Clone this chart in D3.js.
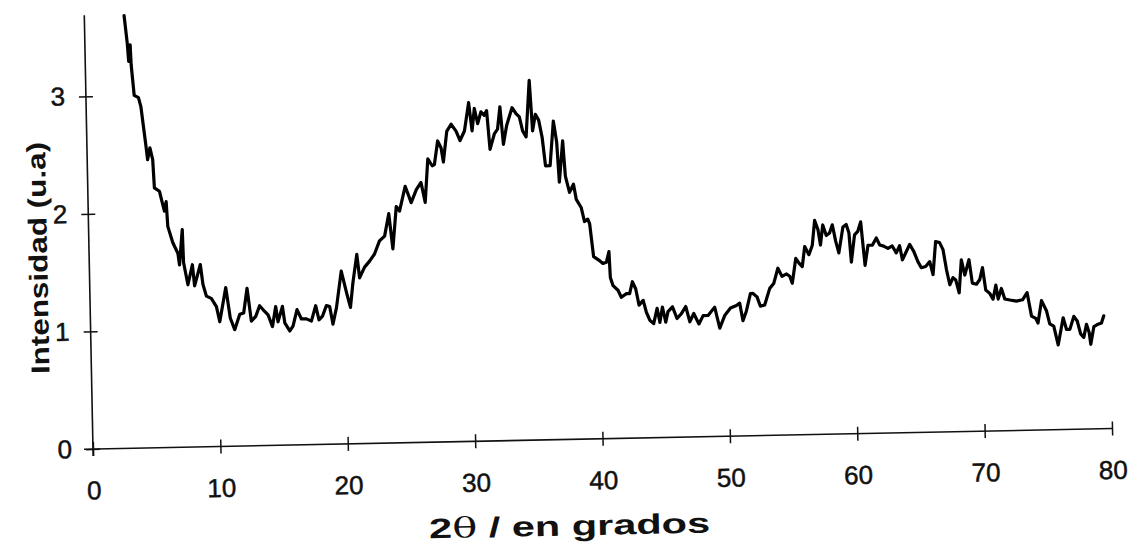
<!DOCTYPE html>
<html><head><meta charset="utf-8">
<script src="https://cdn.jsdelivr.net/npm/d3@7"></script>
<style>body{margin:0;background:#fff}svg{display:block}</style>
</head><body>
<svg id="c" width="1132" height="545"></svg>
<script>
const twoTheta = [3.12,3.33,3.41,3.55,3.60,3.79,4.12,4.30,4.64,4.74,4.94,5.14,5.23,5.62,5.81,5.98,6.13,6.22,6.59,6.97,7.08,7.35,7.40,7.71,8.09,8.23,8.71,8.89,9.14,9.52,9.91,10.15,10.67,10.98,11.31,11.73,12.04,12.34,12.63,12.98,13.30,13.69,13.95,14.28,14.56,14.72,15.09,15.25,15.63,15.89,16.23,16.56,16.96,17.34,17.70,17.94,18.22,18.54,18.80,19.03,19.33,19.76,20.18,20.43,20.66,21.01,21.19,21.60,22.00,22.40,22.81,23.22,23.58,23.85,24.18,24.43,24.91,25.36,25.78,26.16,26.46,26.73,27.06,27.24,27.53,27.79,27.95,28.26,28.61,28.99,29.29,29.65,30.02,30.25,30.46,30.70,30.97,31.23,31.42,31.63,31.99,32.25,32.47,32.69,32.97,33.42,33.72,33.98,34.22,34.48,34.81,35.00,35.24,35.49,35.74,35.96,36.32,36.64,36.87,37.02,37.34,37.50,37.80,38.12,38.32,38.69,38.93,39.19,39.33,39.59,39.99,40.31,40.58,40.80,40.87,41.07,41.45,41.70,42.11,42.36,42.59,42.84,43.08,43.41,43.64,43.90,44.20,44.49,44.69,44.91,45.15,45.34,45.70,46.04,46.39,46.74,47.04,47.36,47.75,48.09,48.48,49.01,49.38,49.80,50.25,50.72,50.98,51.21,51.49,51.84,52.04,52.35,52.60,52.94,53.36,53.68,54.03,54.34,54.70,54.95,55.14,55.45,55.70,55.95,56.17,56.49,56.77,56.99,57.24,57.41,57.62,57.88,58.14,58.37,58.61,58.84,59.20,59.46,59.66,59.81,60.10,60.36,60.60,60.75,60.88,61.14,61.48,61.80,62.06,62.37,62.70,63.04,63.35,63.62,63.82,64.14,64.41,64.72,65.04,65.29,65.63,65.96,66.20,66.45,66.76,67.02,67.26,67.50,67.76,67.97,68.22,68.44,68.69,69.04,69.27,69.59,69.86,70.09,70.31,70.62,70.87,71.11,71.27,71.54,71.79,72.19,72.70,73.18,73.55,73.86,74.19,74.36,74.67,75.05,75.28,75.59,75.91,76.34,76.59,76.85,77.18,77.44,77.69,77.93,78.16,78.36,78.47,78.74,79.07,79.34,79.53];
const intensity = [3.68,3.44,3.29,3.43,3.26,3.00,2.98,2.90,2.56,2.45,2.55,2.45,2.21,2.18,2.09,2.01,2.09,1.88,1.74,1.65,1.55,1.85,1.57,1.38,1.55,1.37,1.55,1.38,1.28,1.26,1.19,1.06,1.35,1.09,0.99,1.12,1.13,1.34,1.06,1.10,1.19,1.14,1.11,1.01,1.18,1.05,1.18,1.04,0.97,1.01,1.15,1.07,1.07,1.05,1.18,1.06,1.09,1.18,1.17,1.02,1.16,1.47,1.27,1.16,1.37,1.61,1.41,1.50,1.55,1.61,1.72,1.76,1.95,1.65,2.01,1.97,2.18,2.04,2.15,2.21,2.04,2.41,2.35,2.36,2.56,2.50,2.38,2.64,2.70,2.64,2.56,2.64,2.88,2.64,2.83,2.70,2.80,2.77,2.81,2.48,2.61,2.65,2.84,2.52,2.68,2.83,2.78,2.75,2.63,2.58,3.06,2.63,2.77,2.72,2.57,2.33,2.33,2.71,2.53,2.19,2.54,2.24,2.10,2.17,2.04,1.97,1.85,1.87,1.83,1.55,1.52,1.49,1.50,1.59,1.37,1.30,1.26,1.20,1.23,1.23,1.33,1.27,1.13,1.17,1.07,1.00,0.97,1.10,0.98,1.11,0.98,1.07,1.11,1.01,1.05,1.11,0.98,1.05,0.96,1.03,1.03,1.10,0.92,1.03,1.09,1.11,1.13,0.98,1.06,1.21,1.21,1.18,1.10,1.11,1.25,1.29,1.42,1.35,1.37,1.35,1.29,1.50,1.46,1.43,1.60,1.53,1.61,1.82,1.74,1.61,1.78,1.69,1.71,1.78,1.64,1.54,1.76,1.78,1.71,1.46,1.69,1.72,1.80,1.60,1.43,1.60,1.60,1.66,1.60,1.59,1.57,1.59,1.53,1.59,1.47,1.54,1.60,1.54,1.45,1.40,1.41,1.45,1.34,1.62,1.61,1.55,1.38,1.25,1.31,1.29,1.18,1.46,1.33,1.46,1.26,1.25,1.29,1.39,1.20,1.17,1.12,1.24,1.12,1.21,1.12,1.11,1.10,1.11,1.17,0.97,0.95,0.91,1.10,1.01,0.90,0.88,0.72,0.95,0.85,0.85,0.96,0.92,0.81,0.78,0.89,0.82,0.72,0.87,0.89,0.90,0.96];
const xTicks = [0,10,20,30,40,50,60,70,80];
const yTicks = [0,1,2,3];
const xTitleMain = "2";
const xTitleGreek = "θ";
const xTitleRest = " / en grados";
const yTitle = "Intensidad (u.a)";

const svg = d3.select("#c");
const ox = 93, oy = 449;
const x = d3.scaleLinear().domain([0, 80]).range([ox, ox + 80 * 12.74]);
const y = d3.scaleLinear().domain([0, 3.69]).range([oy, oy - 3.69 * 117.6]);
const ink = "#111";
const font = "'Liberation Sans', Arial, sans-serif";

const g = svg.append("g").attr("transform", `rotate(-1.15 ${ox} ${oy})`);

// axis lines
g.append("line").attr("x1", x(0) - 9).attr("x2", x(80)).attr("y1", oy).attr("y2", oy)
  .attr("stroke", ink).attr("stroke-width", 1.6);
g.append("line").attr("x1", ox).attr("x2", ox).attr("y1", oy + 7).attr("y2", y(3.69))
  .attr("stroke", ink).attr("stroke-width", 1.6);

const gx = g.append("g").attr("transform", `translate(0,${oy})`)
  .call(d3.axisBottom(x).tickValues(xTicks).tickSize(7).tickPadding(25).tickFormat(d3.format("d")));
gx.select(".domain").remove();
gx.selectAll(".tick line").attr("y1", -7).attr("stroke", ink).attr("stroke-width", 1.5);
gx.selectAll(".tick text").attr("font-family", font).attr("font-size", 26).attr("fill", ink)
  .attr("stroke", ink).attr("stroke-width", 0.5);

const gy = g.append("g").attr("transform", `translate(${ox},0)`)
  .call(d3.axisLeft(y).tickValues(yTicks).tickSize(7).tickPadding(14).tickFormat(d3.format("d")));
gy.select(".domain").remove();
gy.selectAll(".tick line").attr("x1", 7).attr("stroke", ink).attr("stroke-width", 1.5);
gy.selectAll(".tick text").attr("font-family", font).attr("font-size", 26).attr("fill", ink)
  .attr("stroke", ink).attr("stroke-width", 0.5);

// curve
const pts = twoTheta.map((t, i) => [t, intensity[i]]);
g.append("path").datum(pts)
  .attr("fill", "none").attr("stroke", "#000").attr("stroke-width", 3.2)
  .attr("stroke-linejoin", "round").attr("stroke-linecap", "round")
  .attr("d", d3.line().x(d => x(d[0])).y(d => y(d[1])));

// titles
g.append("text")
  .attr("transform", `translate(42,257) rotate(-90)`)
  .attr("text-anchor", "middle").attr("dominant-baseline", "central")
  .attr("font-family", font).attr("font-weight", "bold").attr("font-size", 26)
  .attr("textLength", 232).attr("lengthAdjust", "spacingAndGlyphs")
  .attr("fill", ink)
  .text(yTitle);

const xt = g.append("text")
  .attr("x", 568).attr("y", 545)
  .attr("text-anchor", "middle")
  .attr("font-family", font).attr("font-weight", "bold").attr("font-size", 28)
  .attr("textLength", 281).attr("lengthAdjust", "spacingAndGlyphs")
  .attr("fill", ink);
xt.append("tspan").text(xTitleMain);
xt.append("tspan").attr("font-family", "'DejaVu Serif', 'Liberation Serif', serif").attr("font-weight", "normal").text(xTitleGreek);
xt.append("tspan").text(xTitleRest);
</script>
</body></html>
